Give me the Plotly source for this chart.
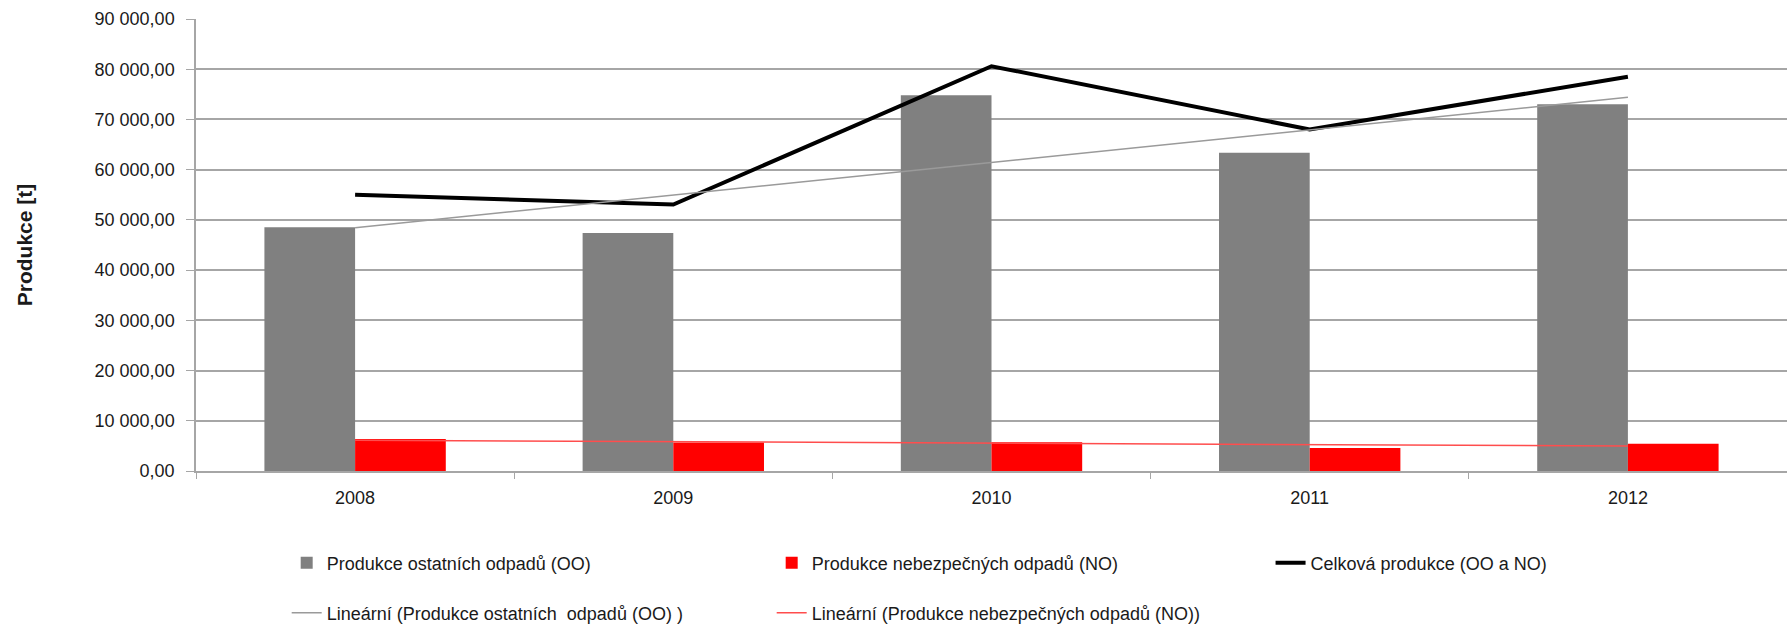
import numpy as np
import plotly.graph_objects as go

years = ["2008", "2009", "2010", "2011", "2012"]
oo = [48550, 47400, 74800, 63350, 73050]      # Produkce ostatních odpadů (OO)
no = [6350, 5650, 5700, 4600, 5450]           # Produkce nebezpečných odpadů (NO)
total = [55000, 53050, 80600, 68000, 78500]   # Celková produkce (OO a NO)

y_ticks = [0, 10000, 20000, 30000, 40000, 50000, 60000, 70000, 80000, 90000]

# linear trendlines (least squares over category index, as in the spreadsheet)
idx = np.arange(len(years))
k_oo, q_oo = np.polyfit(idx, oo, 1)
k_no, q_no = np.polyfit(idx, no, 1)
trend_oo = k_oo * idx + q_oo
trend_no = k_no * idx + q_no

FONT = "Liberation Sans, Arial, sans-serif"
TXT = "#1a1a1a"
GRID = "#a6a6a6"

fig = go.Figure()
fig.add_trace(go.Bar(x=years, y=oo, name="Produkce ostatních odpadů (OO)",
                     marker=dict(color="#808080", line=dict(width=0)), legend="legend"))
fig.add_trace(go.Bar(x=years, y=no, name="Produkce nebezpečných odpadů (NO)",
                     marker=dict(color="#ff0000", line=dict(width=0)), legend="legend"))
fig.add_trace(go.Scatter(x=years, y=total, name="Celková produkce (OO a NO)", mode="lines",
                         line=dict(color="#000000", width=4), legend="legend3"))
fig.add_trace(go.Scatter(x=years, y=trend_oo, name="Lineární (Produkce ostatních  odpadů (OO) )",
                         mode="lines", line=dict(color="#9a9a9a", width=1.5), legend="legend2"))
fig.add_trace(go.Scatter(x=years, y=trend_no, name="Lineární (Produkce nebezpečných odpadů (NO))",
                         mode="lines", line=dict(color="#ff4d4d", width=1.5), legend="legend2"))

legend_common = dict(orientation="h", xanchor="left", yanchor="middle", yref="container",
                     font=dict(family=FONT, size=18, color=TXT),
                     bgcolor="rgba(0,0,0,0)", entrywidthmode="pixels", entrywidth=440,
                     traceorder="normal")

fig.update_layout(
    width=1787, height=626,
    margin=dict(l=196, r=0, t=19, b=155, autoexpand=False),
    plot_bgcolor="white", paper_bgcolor="white",
    barmode="group", bargap=0.43, bargroupgap=0,
    separators=", ",
    font=dict(family=FONT, size=18, color=TXT),
    legend=dict(x=0.057, y=1 - 563 / 626, **legend_common),
    legend3=dict(x=0.6754, y=1 - 563 / 626, **legend_common),
    legend2=dict(x=0.057, y=1 - 613 / 626, **legend_common),
    xaxis=dict(type="category", showgrid=False, showline=True, linecolor=GRID, linewidth=1.5,
               ticks="outside", tickson="boundaries", ticklen=6, tickcolor=GRID,
               ticklabelstandoff=10,
               tickfont=dict(family=FONT, size=18, color=TXT)),
    yaxis=dict(range=[0, 90000], tickvals=y_ticks, tickformat=",.2f",
               showgrid=True, gridcolor=GRID, gridwidth=1.5,
               showline=True, linecolor=GRID, linewidth=1.5,
               ticks="outside", ticklen=8, tickcolor=GRID,
               ticklabelstandoff=8,
               tickfont=dict(family=FONT, size=18, color=TXT),
               zeroline=False,
               title=dict(text="<b>Produkce [t]</b>", font=dict(family=FONT, size=21, color=TXT),
                          standoff=56),
               automargin=False),
)

fig.write_html("out.html", config={"displayModeBar": False},
               post_script="document.body.style.margin='0';")
